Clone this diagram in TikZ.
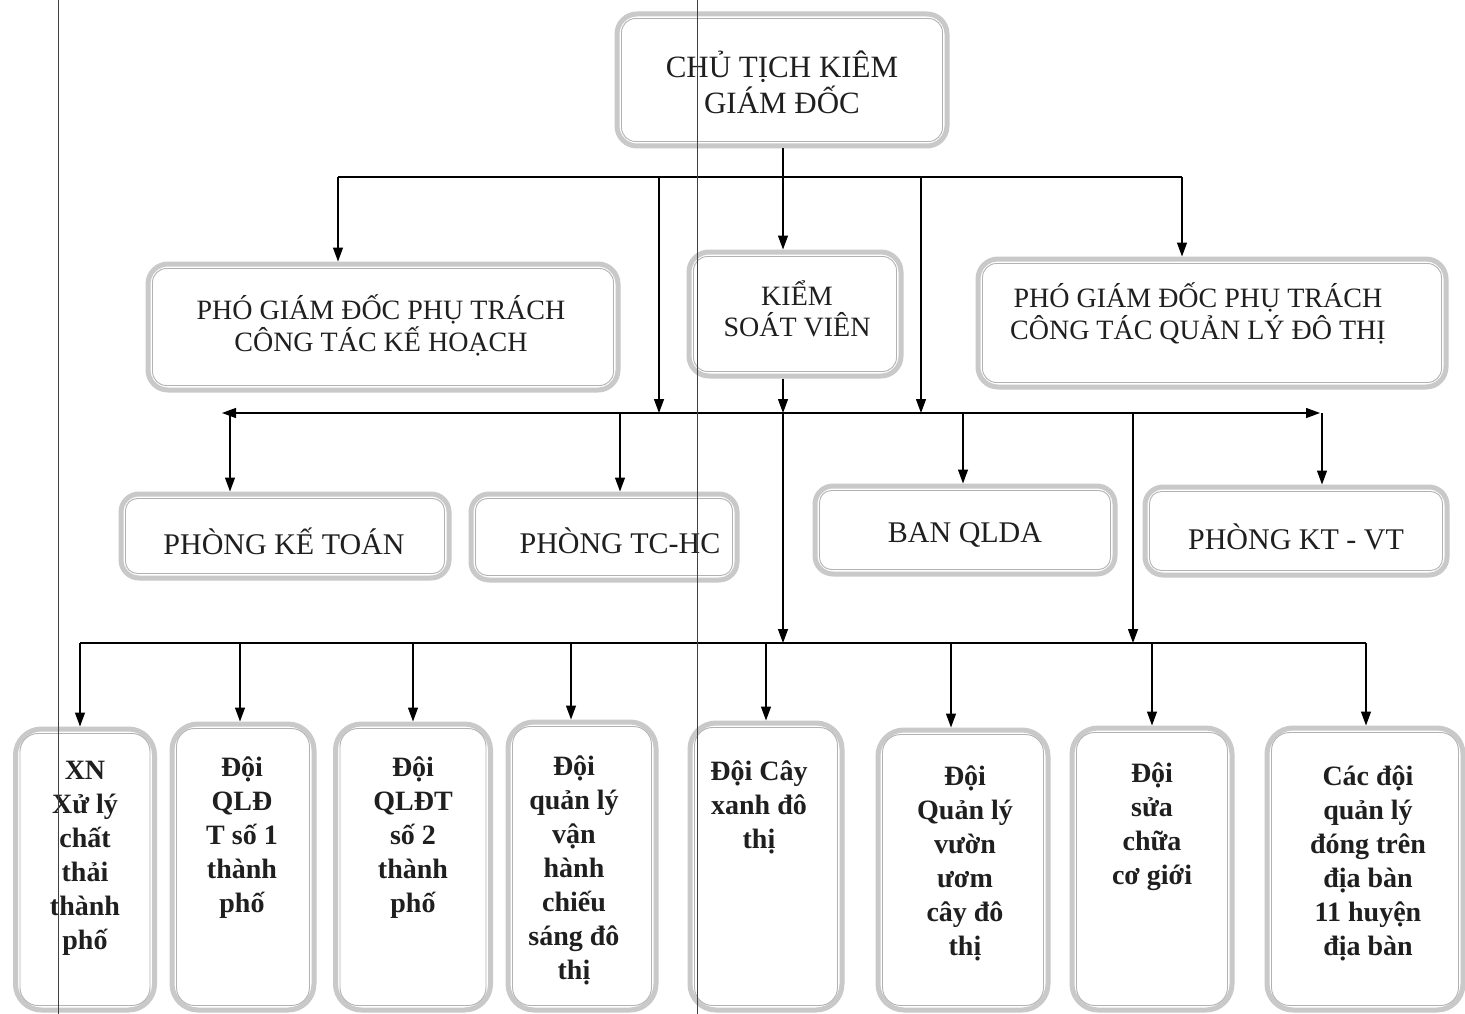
\documentclass[tikz,border=0pt]{standalone}
\usepackage{fontspec}
\setmainfont{Liberation Serif}
\usetikzlibrary{arrows.meta,calc}
\tikzset{
  outerbox/.style={draw=gray!42, line width=5pt, rounded corners=#1, inner sep=0pt},
  outerbox/.default=18pt,
  innerline/.style={draw=gray!60, line width=0.9pt},
  conn/.style={draw=black, line width=1.3pt},
  arr/.style={conn, -{Triangle[length=14pt,width=10pt]}},
  darr/.style={conn, {Triangle[length=14pt,width=10pt]}-{Triangle[length=14pt,width=10pt]}},
  scanline/.style={draw=black!75, line width=0.9pt},
  ttxt/.style={align=center, inner sep=0pt, text=black!88},
  btxt/.style={ttxt, font=\bfseries\fontsize{28}{34}\selectfont},
}
\newcommand\obox[7]{%
  \node[outerbox=#6, minimum width=#4pt, minimum height=#5pt] (#1) at (#2,#3) {};
  \draw[innerline, rounded corners=#7] ([shift={(7pt,-7pt)}]#1.north west) rectangle ([shift={(-7pt,7pt)}]#1.south east);
}
\begin{document}
\begin{tikzpicture}[x=1pt,y=-1pt]
\useasboundingbox (0,0) rectangle (1465,1014);
\clip (0,0) rectangle (1465,1014);
\fill[white] (0,0) rectangle (1465,1014);

% ---- level 0
\obox{top}{782}{80}{330}{132}{20pt}{14pt}
\node[ttxt, font=\fontsize{31}{36}\selectfont] (topt) at (782,82) {CHỦ TỊCH KIÊM\\GIÁM ĐỐC};

% ---- level 1
\obox{kh}{383}{327}{470}{126}{20pt}{14pt}
\node[ttxt, font=\fontsize{28}{32}\selectfont] (kht) at (381,325) {PHÓ GIÁM ĐỐC PHỤ TRÁCH\\CÔNG TÁC KẾ HOẠCH};
\obox{ksv}{795}{314}{212}{124}{20pt}{14pt}
\node[ttxt, font=\fontsize{28}{31}\selectfont] (ksvt) at (797,309) {KIỂM\\SOÁT VIÊN};
\obox{qldt}{1212}{323}{468}{128}{20pt}{14pt}
\node[ttxt, font=\fontsize{28}{32}\selectfont] (qldtt) at (1198,313) {PHÓ GIÁM ĐỐC PHỤ TRÁCH\\CÔNG TÁC QUẢN LÝ ĐÔ THỊ};

% ---- level 2
\obox{kt}{285}{536}{328}{84}{18pt}{12pt}
\node[ttxt, font=\fontsize{30}{34}\selectfont] (ktt) at (284,541) {PHÒNG KẾ TOÁN};
\obox{tchc}{604}{537}{266}{86}{18pt}{12pt}
\node[ttxt, font=\fontsize{30}{34}\selectfont] (tchct) at (620,541) {PHÒNG TC-HC};
\obox{qlda}{965}{530}{300}{88}{18pt}{12pt}
\node[ttxt, font=\fontsize{30}{34}\selectfont] (qldat) at (965,535) {BAN QLDA};
\obox{ktvt}{1296}{531}{302}{88}{18pt}{12pt}
\node[ttxt, font=\fontsize{30}{34}\selectfont] (ktvtt) at (1296,537) {PHÒNG KT - VT};

% ---- level 3
\obox{d1}{85}{869.5}{139}{281}{26pt}{18pt}
\node[btxt] (d1t) at (85,858) {XN\\Xử lý\\chất\\thải\\thành\\phố};
\obox{d2}{243}{867}{142}{286}{26pt}{18pt}
\node[btxt] (d2t) at (242,838) {Đội\\QLĐ\\T số 1\\thành\\phố};
\obox{d3}{413}{867}{155}{286}{26pt}{18pt}
\node[btxt] (d3t) at (413,838) {Đội\\QLĐT\\số 2\\thành\\phố};
\obox{d4}{582}{866}{148}{288}{26pt}{18pt}
\node[btxt] (d4t) at (574,870) {Đội\\quản lý\\vận\\hành\\chiếu\\sáng đô\\thị};
\obox{d5}{766}{866.5}{152}{287}{26pt}{18pt}
\node[btxt] (d5t) at (759,807) {Đội Cây\\xanh đô\\thị};
\obox{d6}{963}{870}{170}{280}{26pt}{18pt}
\node[btxt] (d6t) at (965,863) {Đội\\Quản lý\\vườn\\ươm\\cây đô\\thị};
\obox{d7}{1152}{869}{160}{282}{26pt}{18pt}
\node[btxt] (d7t) at (1152,827) {Đội\\sửa\\chữa\\cơ giới};
\obox{d8}{1365}{869}{196}{282}{26pt}{18pt}
\node[btxt] (d8t) at (1368,863) {Các đội\\quản lý\\đóng trên\\địa bàn\\11 huyện\\địa bàn};

% ---- bus coordinates
\coordinate (b1L) at (338,177);
\coordinate (b1R) at (1182,177);
\coordinate (b1a) at (659,177);
\coordinate (b1b) at (921,177);
\coordinate (b2L) at (222,413);
\coordinate (b2R) at (1320,413);
\coordinate (b2m) at (783,413);
\coordinate (b2n) at (1133,413);
\coordinate (b3L) at (80,643);
\coordinate (b3R) at (1366,643);
\coordinate (b3m) at (783,643);

% ---- connectors level 0 -> 1
\draw[conn] (b1L) -- (b1R);
\draw[arr] (top.south -| b2m) -- (b2m |- ksv.north);
\draw[arr] (b1L) -- (b1L |- kh.north);
\draw[arr] (b1R) -- (b1R |- qldt.north);
\draw[arr] (b1a) -- (b1a |- b2L);
\draw[arr] (b1b) -- (b1b |- b2L);

% ---- bus 2
\draw[darr] (b2L) -- (b2R);
\draw[arr] (ksv.south -| b2m) -- (b2m);
\draw[arr] (230,413) -- (230,0 |- kt.north);
\draw[arr] (620,413) -- (620,0 |- tchc.north);
\draw[arr] (963,413) -- (963,0 |- qlda.north);
\draw[arr] (1322,413) -- (1322,0 |- ktvt.north);
\draw[arr] (b2m) -- (b3m);
\draw[arr] (b2n) -- (b2n |- b3L);

% ---- bus 3
\draw[conn] (b3L) -- (b3R);
\draw[arr] (b3L) -- (b3L |- d1.north);
\draw[arr] (240,643) -- (240,0 |- d2.north);
\draw[arr] (413,643) -- (413,0 |- d3.north);
\draw[arr] (571,643) -- (571,0 |- d4.north);
\draw[arr] (766,643) -- (766,0 |- d5.north);
\draw[arr] (951,643) -- (951,0 |- d6.north);
\draw[arr] (1152,643) -- (1152,0 |- d7.north);
\draw[arr] (b3R) -- (b3R |- d8.north);

% ---- scan lines
\draw[scanline] (58,0) -- (58,1014);
\draw[scanline] (697,0) -- (697,1014);
\end{tikzpicture}
\end{document}
